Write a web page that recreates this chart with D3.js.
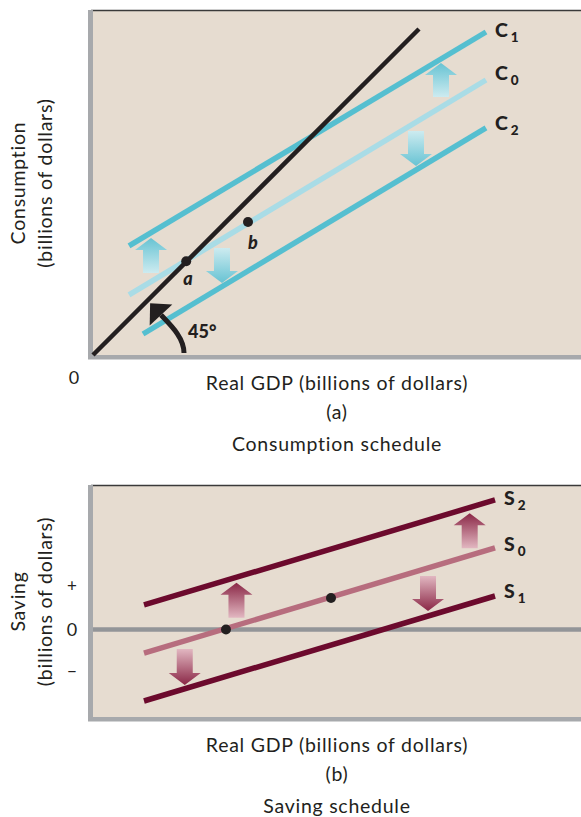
<!DOCTYPE html>
<html><head><meta charset="utf-8">
<script src="https://cdn.jsdelivr.net/npm/d3@7"></script>
<style>
html,body{margin:0;padding:0;background:#fff;}
svg{display:block;}
text{font-family:Lato,"Open Sans",sans-serif;fill:#231f20;}
</style></head>
<body>
<script>
// ---------- DATA ----------
// Panel (a): consumption schedules, endpoints [x, y] in billions (same units on both axes)
const consNames = ["C1", "C0", "C2"];
const consStart = [[7.38, 22.34], [7.38, 12.30], [10.25, 4.30]];
const consEnd   = [[80.53, 66.19], [80.53, 56.35], [80.53, 46.52]];
const line45 = [[0, 0], [66.8, 66.8]];
const consPoints = [[19.1, 19.2], [31.76, 27.25]];
const consPointLabels = ["a", "b"];
// shift arrows: [x, tailY, tipY]
const consArrows = [[71.31, 52.87, 59.84], [66.19, 45.9, 38.73], [11.89, 16.8, 23.98], [26.43, 21.93, 14.75]];

// Panel (b): saving schedules
const saveNames = ["S2", "S0", "S1"];
const saveStart = [[10.45, 5.02], [10.45, -4.82], [10.45, -14.65]];
const saveEnd   = [[82.38, 26.54], [82.38, 16.70], [82.38, 6.86]];
const savePoints = [[27.25, 0], [48.77, 6.45]];
const saveArrows = [[29.4, 2.42, 9.59], [18.8, -4.0, -11.37], [77.19, 16.64, 23.81], [68.65, 10.96, 3.79]];
const saveTickValues = [9.1, 0, -8.5];
const saveTickLabels = ["+", "0", "\u2212"];

const xTitle = "Real GDP (billions of dollars)";
const panelA = {label: "(a)", title: "Consumption schedule", y1: "Consumption", y2: "(billions of dollars)"};
const panelB = {label: "(b)", title: "Saving schedule", y1: "Saving", y2: "(billions of dollars)"};

// ---------- DRAW ----------
const W = 581, H = 817;
const svg = d3.select("body").append("svg").attr("width", W).attr("height", H);
const defs = svg.append("defs");

const xs = d3.scaleLinear().domain([0, 100]).range([93, 581]);
const yA = d3.scaleLinear().domain([0, 70.49]).range([355, 11]);
const yB = d3.scaleLinear().domain([-17.93, 29.4]).range([717, 486]);

const BG = "#e6dcd0", AXIS = "#a7a9ac";
const TEAL = "#55bfd0", TEAL_L = "#a9dce6";
const MAROON = "#6c0a2d", MAROON_L = "#b76d7e";

function frame(y) {
  const top = y.range()[1], bot = y.range()[0];
  svg.append("rect").attr("x", xs(0)).attr("y", top).attr("width", W - xs(0)).attr("height", bot - top).attr("fill", BG);
  svg.append("line").attr("x1", xs(0) - 2).attr("x2", W).attr("y1", top - 0.5).attr("y2", top - 0.5)
     .attr("stroke", "#3a3a3a").attr("stroke-width", 1.6);
  svg.append("rect").attr("x", xs(0) - 5).attr("y", top - 1).attr("width", 5).attr("height", bot - top + 5).attr("fill", AXIS);
  svg.append("rect").attr("x", xs(0) - 5).attr("y", bot).attr("width", W - xs(0) + 5).attr("height", 4.5).attr("fill", AXIS);
}
frame(yA);
frame(yB);

// zero line in panel b
svg.append("line").attr("x1", xs(0)).attr("x2", W).attr("y1", yB(0)).attr("y2", yB(0))
   .attr("stroke", "#939598").attr("stroke-width", 4.5);

function gradient(id, tipColor, tailColor, x, tail, tip) {
  const g = defs.append("linearGradient").attr("id", id).attr("gradientUnits", "userSpaceOnUse")
     .attr("x1", x).attr("x2", x).attr("y1", tail).attr("y2", tip);
  g.append("stop").attr("offset", 0).attr("stop-color", tailColor);
  g.append("stop").attr("offset", 1).attr("stop-color", tipColor);
}
function arrows(data, y, tipColor, tailColor, prefix) {
  data.forEach((d, i) => {
    const cx = xs(d[0]), tail = y(d[1]), tip = y(d[2]);
    const dir = tip < tail ? -1 : 1;
    const headBase = tip - dir * 12;
    const sw = 8, hw = 16;
    const id = prefix + i;
    gradient(id, tipColor, tailColor, cx, tail, tip);
    const p = [[cx - sw, tail], [cx - sw, headBase], [cx - hw, headBase], [cx, tip], [cx + hw, headBase], [cx + sw, headBase], [cx + sw, tail]];
    svg.append("path").attr("d", d3.line()(p) + "Z").attr("fill", `url(#${id})`);
  });
}

function drawLines(starts, ends, y, colors, width) {
  starts.forEach((s, i) => {
    svg.append("path").attr("d", d3.line().x(d => xs(d[0])).y(d => y(d[1]))([s, ends[i]]))
       .attr("stroke", colors[i]).attr("stroke-width", width).attr("fill", "none");
  });
}
function lineLabels(names, ends, y, offs) {
  names.forEach((n, i) => {
    const t = svg.append("text").attr("x", xs(ends[i][0]) + 9).attr("y", y(ends[i][1]) + offs[i])
       .attr("font-weight", 900).attr("font-size", 19.5);
    t.append("tspan").text(n[0]);
    t.append("tspan").attr("font-size", 13.5).attr("dx", 3).attr("dy", 5).text(n.slice(1));
  });
}

// ---- Panel (a)
arrows(consArrows, yA, "#67c3d3", "#cdebf0", "ga");
drawLines(consStart, consEnd, yA, [TEAL, TEAL_L, TEAL], 5.5);
svg.append("path").attr("d", d3.line().x(d => xs(d[0])).y(d => yA(d[1]))(line45))
   .attr("stroke", "#231f20").attr("stroke-width", 4.5).attr("fill", "none");
svg.selectAll(".cpt").data(consPoints).join("circle")
   .attr("cx", d => xs(d[0])).attr("cy", d => yA(d[1])).attr("r", 5).attr("fill", "#231f20");
svg.selectAll(".cptl").data(consPoints).join("text")
   .attr("x", (d, i) => xs(d[0]) + (i === 0 ? -3 : 0)).attr("y", (d, i) => yA(d[1]) + (i === 0 ? 24 : 27))
   .attr("font-style", "italic").attr("font-weight", 900).attr("font-size", 18)
   .text((d, i) => consPointLabels[i]);
lineLabels(consNames, consEnd, yA, [5, 0, 2]);

// 45 degree marker
{
  const ox = xs(0), oy = yA(0);
  const p0 = [ox + 91, oy - 2], p3 = [ox + 68, oy - 40];
  const dir = [-0.68, -0.73];
  const pth = d3.path();
  pth.moveTo(p0[0], p0[1]);
  pth.bezierCurveTo(p0[0], p0[1] - 16, p3[0] - dir[0] * 12, p3[1] - dir[1] * 12, p3[0], p3[1]);
  svg.append("path").attr("d", pth.toString()).attr("stroke", "#231f20").attr("stroke-width", 5).attr("fill", "none");
  const n = [dir[1], -dir[0]];
  const tip = [p3[0] + dir[0] * 16, p3[1] + dir[1] * 16];
  const head = [tip, [p3[0] + n[0] * 15.5, p3[1] + n[1] * 15.5], [p3[0] - n[0] * 15.5, p3[1] - n[1] * 15.5]];
  svg.append("path").attr("d", d3.line()(head) + "Z").attr("fill", "#231f20");
  svg.append("text").attr("x", ox + 95).attr("y", oy - 17).attr("font-weight", 900).attr("font-size", 18).text("45°");
}
svg.append("text").attr("x", xs(0) - 19).attr("y", yA(0) + 29).attr("font-size", 18).attr("text-anchor", "middle").text("0");

// ---- Panel (b)
arrows(saveArrows, yB, "#8a2746", "#e2b7c1", "gb");
drawLines(saveStart, saveEnd, yB, [MAROON, MAROON_L, MAROON], 5.5);
svg.selectAll(".spt").data(savePoints).join("circle")
   .attr("cx", d => xs(d[0])).attr("cy", d => yB(d[1])).attr("r", 5).attr("fill", "#231f20");
lineLabels(saveNames, saveEnd, yB, [5, 3, 2]);

const axB = d3.axisLeft(yB).tickValues(saveTickValues).tickSize(0).tickPadding(0)
   .tickFormat((d, i) => saveTickLabels[i]);
const gAx = svg.append("g").attr("transform", `translate(${xs(0) - 21},0)`).call(axB);
gAx.select(".domain").remove();
gAx.selectAll("text").attr("font-size", 17).attr("font-family", "'DejaVu Sans', sans-serif")
   .attr("fill", "#231f20").attr("text-anchor", "middle").attr("dy", "0.35em");
gAx.selectAll("text").filter((d, i) => saveTickLabels[i] === "0")
   .attr("font-family", "Lato, sans-serif").attr("font-size", 18);

// ---- Titles
function titles(y, p) {
  const bot = y.range()[0], top = y.range()[1], mid = (bot + top) / 2;
  const cx = (xs(0) + W) / 2;
  const fs = 19.5, ls = 0.75;
  svg.append("text").attr("x", cx).attr("y", bot + 35).attr("text-anchor", "middle").attr("font-size", fs).attr("letter-spacing", ls).text(xTitle);
  svg.append("text").attr("x", cx).attr("y", bot + 64).attr("text-anchor", "middle").attr("font-size", fs).attr("letter-spacing", ls).text(p.label);
  svg.append("text").attr("x", cx).attr("y", bot + 96).attr("text-anchor", "middle").attr("font-size", fs).attr("letter-spacing", ls).text(p.title);
  svg.append("text").attr("transform", `translate(25,${mid}) rotate(-90)`).attr("text-anchor", "middle").attr("font-size", fs).attr("letter-spacing", ls).text(p.y1);
  svg.append("text").attr("transform", `translate(52,${mid}) rotate(-90)`).attr("text-anchor", "middle").attr("font-size", fs).attr("letter-spacing", ls).text(p.y2);
}
titles(yA, panelA);
titles(yB, panelB);
</script>
</body></html>
